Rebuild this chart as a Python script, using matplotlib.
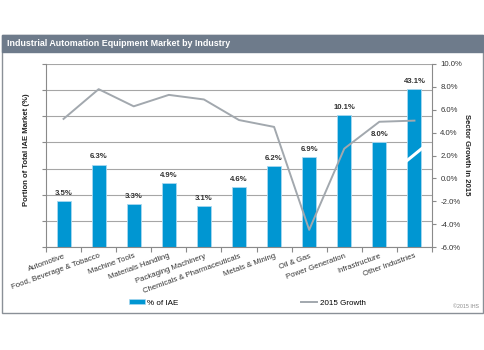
import numpy as np
import matplotlib
matplotlib.use('Agg')
import matplotlib.pyplot as plt
from matplotlib.patches import Rectangle, Patch
from matplotlib.lines import Line2D

plt.rcParams['font.family'] = ['Liberation Sans', 'DejaVu Sans']

# data
industries = ['Automotive', 'Food, Beverage & Tobacco', 'Machine Tools',
              'Materials Handling', 'Packaging Machinery',
              'Chemicals & Pharmaceuticals', 'Metals & Mining', 'Oil & Gas',
              'Power Generation', 'Infrastructure', 'Other Industries']
share_pct = [3.5, 6.3, 3.3, 4.9, 3.1, 4.6, 6.2, 6.9, 10.1, 8.0, 43.1]
growth_2015 = [5.2, 7.8, 6.3, 7.3, 6.9, 5.1, 4.5, -4.5, 2.6, 4.95, 5.05]

W, H = 485, 350
fig = plt.figure(figsize=(W / 100, H / 100), dpi=100)

def fx(px):
    return px / W

def fy(py):
    return 1 - py / H

# frame + title bar
fig.patches.append(Rectangle((fx(2), fy(313)), fx(481), (313 - 35) / H,
                             transform=fig.transFigure, facecolor='white',
                             edgecolor='#8a9097', lw=1.0, zorder=-2))
fig.patches.append(Rectangle((fx(2), fy(52)), fx(481), 17 / H,
                             transform=fig.transFigure, facecolor='#6e7b8b',
                             edgecolor='#6e7b8b', lw=1.0, zorder=-1))
fig.text(fx(7), fy(43.5), 'Industrial Automation Equipment Market by Industry',
         color='white', fontsize=6.4, fontweight='bold', va='center', ha='left')

# axes
ax = fig.add_axes([fx(46), fy(247), fx(432 - 46), (247 - 64) / H])
ax.set_facecolor('none')
x = np.arange(len(industries))

bar_color = '#0096d2'
cap = 12.1  # tallest bar is drawn broken
heights = [min(v, cap) for v in share_pct]
ax.bar(x, heights, width=0.4, color=bar_color, edgecolor='#a8d8f0', lw=0.6, zorder=2)
for xi, v, h in zip(x, share_pct, heights):
    ax.annotate(f'{v:.1f}%', (xi, h), xytext=(0, 3), textcoords='offset points',
                ha='center', va='bottom', fontsize=5.6, fontweight='bold', color='#333333')
# break mark on the capped bar
ax.plot([10 - 0.24, 10 + 0.24], [6.55, 7.6], color='white', lw=2.2,
        solid_capstyle='butt', zorder=3)

ax.set_xlim(-0.5, len(industries) - 0.5)
ax.set_ylim(0, 14)
ax.set_yticks(np.arange(0, 15, 2))
ax.set_yticklabels([])
ax.grid(axis='y', color='#a6a6a6', lw=0.8, zorder=0)
ax.set_axisbelow(True)
ax.tick_params(axis='y', length=3, color='#8a8a8a', width=0.8)
ax.set_xticks(x)
ax.set_xticklabels(industries, rotation=20, ha='right', va='top',
                   rotation_mode='anchor', fontsize=5.6, color='#333333')
ax.tick_params(axis='x', which='major', length=0, pad=4)
ax.set_xticks(np.arange(-0.5, len(industries), 1), minor=True)
ax.tick_params(axis='x', which='minor', length=3.5, color='#8a8a8a', width=0.8)
for s in ['top', 'right']:
    ax.spines[s].set_visible(False)
for s in ['left', 'bottom']:
    ax.spines[s].set_color('#8a8a8a')
    ax.spines[s].set_linewidth(0.8)

ax2 = ax.twinx()
ax2.plot(x, growth_2015, color='#a2a8ae', lw=1.4, zorder=4)
ax2.set_ylim(-6, 10)
ax2.set_yticks(np.arange(-6, 11, 2))
ax2.set_yticklabels([f'{v:.1f}%' for v in np.arange(-6, 11, 2)], fontsize=5.6, color='#333333')
ax2.tick_params(axis='y', length=3, color='#8a8a8a', width=0.8, pad=3)
for s in ['top', 'left', 'bottom']:
    ax2.spines[s].set_visible(False)
ax2.spines['right'].set_color('#8a8a8a')
ax2.spines['right'].set_linewidth(0.8)

fig.text(fx(27), fy(150), 'Portion of Total IAE Market (%)', rotation=90,
         ha='center', va='center', fontsize=5.6, fontweight='bold', color='#222222')
fig.text(fx(467), fy(155), 'Sector Growth in 2015', rotation=-90,
         ha='center', va='center', fontsize=5.6, fontweight='bold', color='#222222')

# legend entries
fig.legend(handles=[Patch(facecolor=bar_color, edgecolor='#a8d8f0', lw=0.5)],
           labels=['% of IAE'], loc='center left', bbox_to_anchor=(fx(122), fy(303)),
           frameon=False, fontsize=5.8, handlelength=1.9, handleheight=0.45,
           handletextpad=0.3)
fig.legend(handles=[Line2D([], [], color='#a2a8ae', lw=1.4)],
           labels=['2015 Growth'], loc='center left', bbox_to_anchor=(fx(294), fy(303)),
           frameon=False, fontsize=5.8, handlelength=2.0, handletextpad=0.3)

fig.text(fx(479), fy(307), '\u00a92015 IHS', ha='right', va='center',
         fontsize=3.8, color='#8a8a8a')

fig.savefig('out.png', dpi=100)
